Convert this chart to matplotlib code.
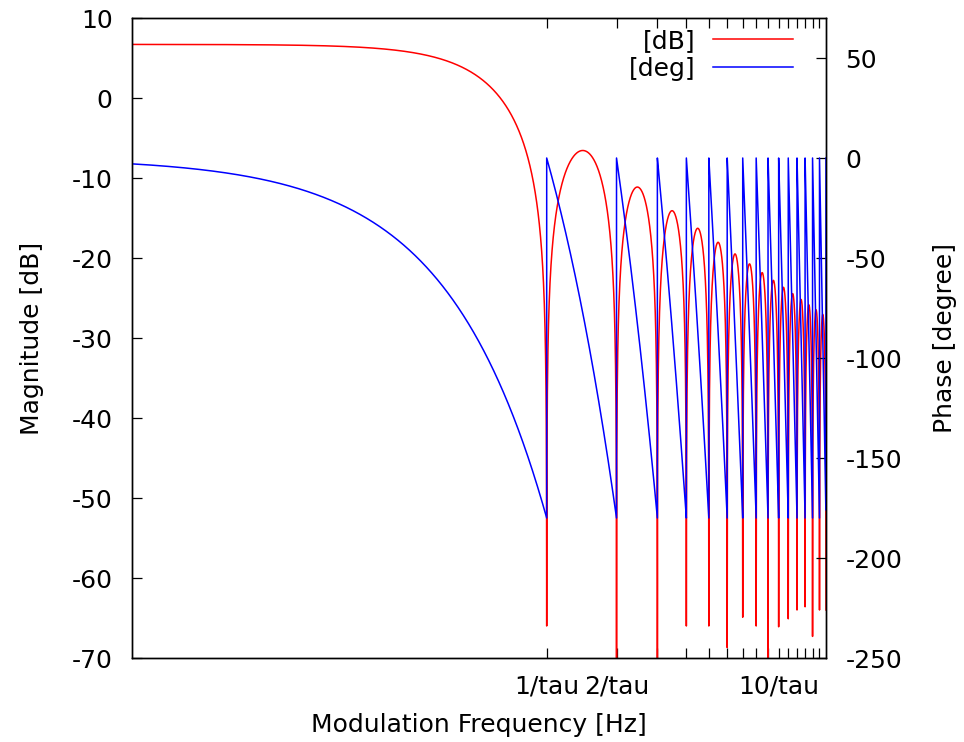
import numpy as np
import matplotlib

matplotlib.use("Agg")
import matplotlib.pyplot as plt

plt.rcParams["font.family"] = ["DejaVu Sans"]
plt.rcParams["axes.unicode_minus"] = False

# values
X_MIN, X_MAX = 0.0163, 16.0          # in units of 1/tau
GAIN_DB = 6.7                         # low-frequency magnitude
NULL_ORDER = [1, 2, 3, 4, 5, 6, 7, 8, 9, 10, 11, 12, 13, 14, 15]
# deepest sampled point of each null (below -70 -> clipped by the axis)
NULL_DEPTH_DB = [-66.0, -80.0, -80.0, -66.0, -66.0, -68.7, -64.9, -66.0,
                 -80.0, -66.1, -65.1, -64.0, -63.6, -67.3, -64.0]
XTICKS = list(range(1, 16))
XTICK_LABELS = {1: "1/tau", 2: "2/tau", 10: "10/tau"}
DB_TICKS = list(range(-70, 11, 10))
DEG_TICKS = list(range(-250, 51, 50))

RED, BLUE = "#ff0000", "#0000ff"

# sampled response of a boxcar (sinc) filter; nulls inserted explicitly
f = np.geomspace(X_MIN, X_MAX, 5000)
nulls = np.array(NULL_ORDER, dtype=float)
f = np.unique(np.concatenate([f, nulls, nulls - 1e-9]))
mag = GAIN_DB + 20 * np.log10(np.abs(np.sinc(f)) + 1e-300)
nearest = np.clip(np.rint(f).astype(int), 1, len(NULL_DEPTH_DB))
floor = np.array(NULL_DEPTH_DB)[nearest - 1]
mag = np.maximum(mag, floor)
phase = -180.0 * (f - np.floor(f))

fig = plt.figure(figsize=(9.64, 7.42), dpi=100)
ax = fig.add_axes([132 / 964, 1 - 658 / 742, (826 - 132) / 964, (658 - 18) / 742])
ax2 = ax.twinx()

l1, = ax.plot(f, mag, color=RED, lw=1.1, label="[dB]")
l2, = ax2.plot(f, phase, color=BLUE, lw=1.1, label="[deg]")

ax.set_xscale("log")
ax.set_xlim(X_MIN, X_MAX)
ax.set_ylim(-70, 10)
ax2.set_ylim(-250, 70)

ax.set_xticks(XTICKS)
ax.set_xticklabels([XTICK_LABELS.get(t, "") for t in XTICKS])
ax.xaxis.set_minor_locator(matplotlib.ticker.NullLocator())
ax.set_yticks(DB_TICKS)
ax2.set_yticks(DEG_TICKS)

fs = 18
ax.tick_params(axis="x", which="both", direction="in", length=7, width=0.9,
               top=True, labelsize=fs, pad=12)
ax.tick_params(axis="y", direction="in", length=7, width=0.9, right=False,
               labelsize=fs, pad=14)
ax2.tick_params(axis="y", direction="in", length=7, width=0.9, labelsize=fs, pad=14)
for a in (ax, ax2):
    for s in a.spines.values():
        s.set_linewidth(1.0)

ax.set_xlabel("Modulation Frequency [Hz]", fontsize=fs, labelpad=10)
ax.set_ylabel("Magnitude [dB]", fontsize=fs, labelpad=20)
ax2.set_ylabel("Phase [degree]", fontsize=fs, labelpad=22)

ax2.legend([l1, l2], ["[dB]", "[deg]"], loc="upper right", frameon=False,
           markerfirst=False, fontsize=fs, handlelength=3.2, handletextpad=0.7,
           labelspacing=0.15, borderaxespad=0.2, bbox_to_anchor=(0.974, 1.006))

fig.savefig("out.png", dpi=100)
